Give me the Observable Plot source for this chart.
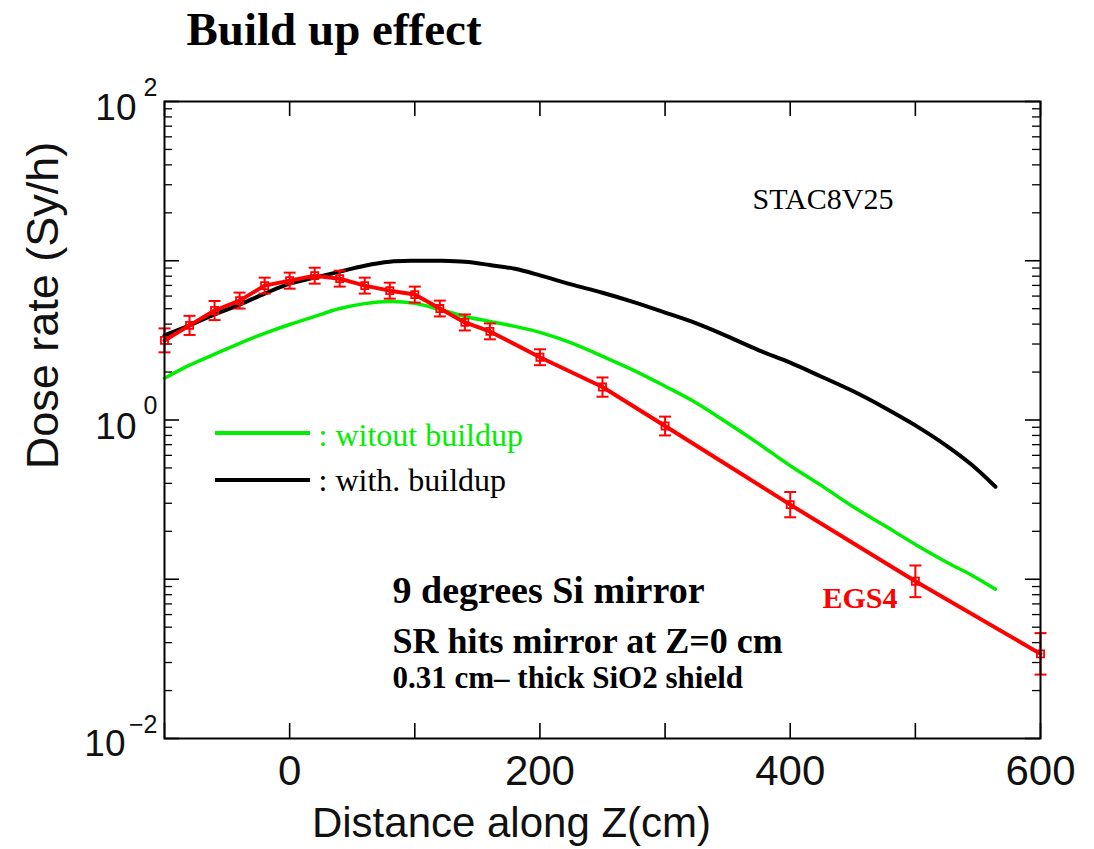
<!DOCTYPE html>
<html>
<head>
<meta charset="utf-8">
<script src="https://cdn.jsdelivr.net/npm/d3@7"></script>
<script src="https://cdn.jsdelivr.net/npm/@observablehq/plot@0.6"></script>
<style>
  body { margin: 0; background: #ffffff; }
  #chart { width: 1094px; height: 849px; }
</style>
</head>
<body>
<div id="chart"></div>
<script>
// ---------- data ----------
// Z positions (cm) for the two computed curves
const zCurve = [-100, -80, -60, -40, -20, 0, 20, 40, 60, 80, 100, 120, 140, 160, 180, 200,
                225, 250, 275, 300, 325, 350, 375, 400, 425, 450, 475, 500, 525, 545, 564];
// dose rate (Sv/h) with buildup (black)
const doseWithBuildup = [3.40, 3.93, 4.60, 5.31, 6.22, 7.18, 7.83, 8.54, 9.31, 9.86, 10.0, 10.0, 9.86, 9.4, 8.9, 8.1,
                         7.1, 6.3, 5.5, 4.73, 4.04, 3.35, 2.74, 2.29, 1.87, 1.52, 1.20, 0.925, 0.688, 0.523, 0.381];
// dose rate (Sv/h) without buildup (green)
const doseWithoutBuildup = [1.83, 2.21, 2.59, 3.03, 3.50, 3.98, 4.47, 5.01, 5.38, 5.54, 5.40, 4.94, 4.47, 4.16, 3.87, 3.55,
                            3.05, 2.51, 2.05, 1.63, 1.28, 0.957, 0.708, 0.516, 0.387, 0.286, 0.218, 0.1655, 0.128, 0.106, 0.0866];
// EGS4 Monte Carlo points (red) with error bars
const egsZ    = [-100, -80, -60, -40, -20, 0, 20, 40, 60, 80, 100, 120, 140, 160, 200, 250, 300, 400, 500, 600];
const egsDose = [3.16, 3.93, 4.87, 5.62, 6.98, 7.50, 8.06, 7.72, 6.98, 6.49, 6.13, 5.01, 4.10, 3.60, 2.48, 1.61, 0.917, 0.294, 0.0972, 0.034];
const egsLow  = [2.66, 3.42, 4.24, 5.01, 6.22, 6.68, 7.18, 6.88, 6.22, 5.78, 5.46, 4.47, 3.65, 3.21, 2.21, 1.40, 0.80, 0.245, 0.0772, 0.0252];
const egsHigh = [3.76, 4.51, 5.59, 6.31, 7.83, 8.42, 9.04, 8.66, 7.83, 7.28, 6.88, 5.62, 4.60, 4.04, 2.78, 1.85, 1.05, 0.353, 0.122, 0.0459];

// axis ticks and labels
const xMajorTicks = [-100, 0, 100, 200, 300, 400, 500, 600];
const xTickLabels = [0, 200, 400, 600];
const yMajorTicks = [0.01, 0.1, 1, 10, 100];
const yMinorTicks = [0.02, 0.03, 0.04, 0.05, 0.06, 0.07, 0.08, 0.09,
                     0.2, 0.3, 0.4, 0.5, 0.6, 0.7, 0.8, 0.9,
                     2, 3, 4, 5, 6, 7, 8, 9,
                     20, 30, 40, 50, 60, 70, 80, 90];
const yLabelTicks = [100, 1, 0.01];
const yLabelExps  = ["2", "0", "\u22122"];

// legend
const legendLabels = [": witout buildup", ": with. buildup"];
const legendColors = ["#00ee00", "#000000"];

// ---------- tables built from the arrays ----------
const blackData = zCurve.map((z, i) => ({z, v: doseWithBuildup[i]}));
const greenData = zCurve.map((z, i) => ({z, v: doseWithoutBuildup[i]}));
const egsData = egsZ.map((z, i) => ({z, v: egsDose[i], lo: egsLow[i], hi: egsHigh[i]}));

// ---------- layout ----------
const W = 1094, H = 849;
const mL = 164, mR = 54, mT = 101, mB = 111;
const fw = W - mL - mR, fh = H - mT - mB;
const SANS = "'Liberation Sans', Arial, Helvetica, sans-serif";
const SERIF = "'Liberation Serif', 'Times New Roman', Times, serif";
const RED = "#ff0000";

const capSymbol = { draw(ctx, size) { const r = Math.sqrt(size / Math.PI); ctx.moveTo(-r, 0); ctx.lineTo(r, 0); } };

const legendSwatches = (index, scales, values, dims) => {
  const g = d3.create("svg:g");
  legendColors.forEach((c, i) => {
    g.append("line")
      .attr("x1", dims.marginLeft + 51).attr("x2", dims.marginLeft + 146)
      .attr("y1", dims.marginTop + 332 + i * 47).attr("y2", dims.marginTop + 332 + i * 47)
      .attr("stroke", c).attr("stroke-width", 4);
  });
  return g.node();
};

// helper for free text placed relative to the frame
const note = (str, opts) => Plot.text([str], { text: d => d, lineAnchor: "middle", ...opts });

const chart = Plot.plot({
  width: W, height: H,
  marginLeft: mL, marginRight: mR, marginTop: mT, marginBottom: mB,
  style: { background: "#ffffff", overflow: "visible" },
  x: { domain: [-100, 600], axis: null },
  y: { type: "log", domain: [0.01, 100], axis: null },
  marks: [
    // ticks (inward, on all four sides)
    Plot.tickX(xMajorTicks, { x: d => d, insetTop: fh - 15, stroke: "#000", strokeWidth: 1.6 }),
    Plot.tickX(xMajorTicks, { x: d => d, insetBottom: fh - 15, stroke: "#000", strokeWidth: 1.6 }),
    Plot.tickY(yMajorTicks, { y: d => d, insetRight: fw - 15, stroke: "#000", strokeWidth: 1.6 }),
    Plot.tickY(yMajorTicks, { y: d => d, insetLeft: fw - 15, stroke: "#000", strokeWidth: 1.6 }),
    Plot.tickY(yMinorTicks, { y: d => d, insetRight: fw - 8, stroke: "#000", strokeWidth: 1.3 }),
    Plot.tickY(yMinorTicks, { y: d => d, insetLeft: fw - 8, stroke: "#000", strokeWidth: 1.3 }),

    // curves
    Plot.line(greenData, { x: "z", y: "v", stroke: "#00ee00", strokeWidth: 3.5, curve: "catmull-rom" }),
    Plot.line(blackData, { x: "z", y: "v", stroke: "#000000", strokeWidth: 4, curve: "catmull-rom" }),
    Plot.line(egsData, { x: "z", y: "v", stroke: RED, strokeWidth: 4 }),
    Plot.ruleX(egsData, { x: "z", y1: "lo", y2: "hi", stroke: RED, strokeWidth: 2 }),
    Plot.dot(egsData, { x: "z", y: "lo", symbol: capSymbol, r: 6, stroke: RED, strokeWidth: 2, fill: "none" }),
    Plot.dot(egsData, { x: "z", y: "hi", symbol: capSymbol, r: 6, stroke: RED, strokeWidth: 2, fill: "none" }),
    Plot.dot(egsData, { x: "z", y: "v", symbol: "square", r: 4, stroke: RED, strokeWidth: 1.8, fill: "none" }),

    Plot.frame({ stroke: "#000", strokeWidth: 2 }),

    // x tick labels
    Plot.text(xTickLabels, { x: d => d, text: d => String(d), frameAnchor: "bottom", lineAnchor: "middle",
      textAnchor: "middle", dy: 33, fontSize: 42, fontFamily: SANS, fill: "#111" }),
    // y tick labels: 10 with exponent
    Plot.text(yLabelTicks, { filter: (d, i) => yLabelExps[i].length === 1, y: d => d, text: () => "10",
      frameAnchor: "left", lineAnchor: "middle", textAnchor: "end", dx: -28, dy: 7, fontSize: 37, fontFamily: SANS, fill: "#111" }),
    Plot.text(yLabelTicks, { filter: (d, i) => yLabelExps[i].length > 1, y: d => d, text: () => "10",
      frameAnchor: "left", lineAnchor: "middle", textAnchor: "end", dx: -39, dy: 6, fontSize: 37, fontFamily: SANS, fill: "#111" }),
    Plot.text(yLabelTicks, { y: d => d, text: (d, i) => yLabelExps[i],
      frameAnchor: "left", lineAnchor: "middle", textAnchor: "end", dx: -7, dy: -14, fontSize: 25, fontFamily: SANS, fill: "#111" }),

    // axis titles
    note("Distance along Z(cm)", { frameAnchor: "bottom", textAnchor: "middle", dx: -91, dy: 85,
      fontSize: 42, fontFamily: SANS, fill: "#111" }),
    note("Dose rate (Sy/h)", { frameAnchor: "left", textAnchor: "middle", rotate: -90, dx: -121, dy: -114.5,
      fontSize: 45, fontFamily: SANS, fill: "#111" }),

    // title
    note("Build up effect", { frameAnchor: "top-left", textAnchor: "start", dx: 22, dy: -72,
      fontSize: 47, fontWeight: "bold", fontFamily: SERIF, fill: "#000" }),

    // annotations
    note("STAC8V25", { frameAnchor: "top-left", textAnchor: "start", dx: 588, dy: 97.4,
      fontSize: 30, fontFamily: SERIF, fill: "#000" }),
    note("9 degrees Si mirror", { frameAnchor: "top-left", textAnchor: "start", dx: 228, dy: 489.8,
      fontSize: 38, fontWeight: "bold", fontFamily: SERIF, fill: "#000" }),
    note("SR hits mirror at Z=0 cm", { frameAnchor: "top-left", textAnchor: "start", dx: 228, dy: 539.5,
      fontSize: 36, fontWeight: "bold", fontFamily: SERIF, fill: "#000" }),
    note("0.31 cm\u2013 thick SiO2 shield", { frameAnchor: "top-left", textAnchor: "start", dx: 228, dy: 577,
      fontSize: 31, fontWeight: "bold", fontFamily: SERIF, fill: "#000" }),
    note("EGS4", { frameAnchor: "top-left", textAnchor: "start", dx: 658, dy: 496.4,
      fontSize: 30, fontWeight: "bold", fontFamily: SERIF, fill: RED }),

    // legend
    legendSwatches,
    ...legendLabels.map((lab, i) => note(lab, { frameAnchor: "top-left", textAnchor: "start",
      dx: 154, dy: 333.8 + i * 45, fontSize: 32, fontFamily: SERIF, fill: legendColors[i] }))
  ]
});

document.getElementById("chart").appendChild(chart);
</script>
</body>
</html>
